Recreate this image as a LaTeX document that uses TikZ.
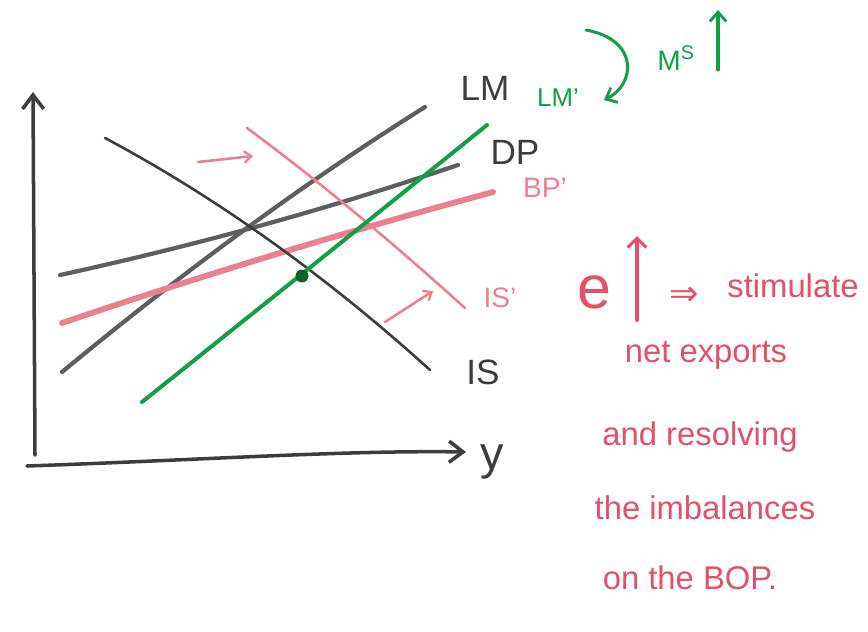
\documentclass[tikz,border=0pt]{standalone}
\usepackage{fontspec}
\setmainfont{Liberation Sans}
\newfontfamily\symfnt{DejaVu Sans}
\usetikzlibrary{arrows.meta}
\definecolor{ink}{HTML}{3A3C3E}
\definecolor{grayink}{HTML}{5C5E60}
\definecolor{pinkink}{HTML}{EC8090}
\definecolor{redink}{HTML}{E4506A}
\definecolor{greenink}{HTML}{12A046}
\tikzset{
  axis/.style={ink, line width=3pt, line cap=round, -{Straight Barb[length=12pt,width=18pt,line width=3pt]}},
  curvegray/.style={grayink, line width=3.6pt, line cap=round},
  curveblack/.style={ink, line width=2.2pt, line cap=round},
  curvepink/.style={pinkink, line width=5pt, line cap=round},
  curvepinkthin/.style={pinkink, line width=2.2pt, line cap=round},
  curvegreen/.style={greenink, line width=3.4pt, line cap=round},
  shiftarrow/.style={pinkink, line width=2.2pt, line cap=round, -{Straight Barb[length=6pt,width=10pt,line width=2pt]}},
  greenarrow/.style={greenink, line width=2.6pt, line cap=round, -{Straight Barb[length=8pt,width=14pt,line width=2.4pt]}},
  lbl/.style={inner sep=1pt, font=\fontsize{30}{32}\selectfont},
  note/.style={redink, inner sep=1pt, font=\fontsize{28}{30}\selectfont},
}
\begin{document}
\begin{tikzpicture}[x=0.03cm, y=-0.03cm]
\useasboundingbox (0,0) rectangle (868,631);
% axes
\coordinate (o) at (35,455);
\coordinate (ytop) at (33,92);
\coordinate (xl) at (27,466);
\coordinate (xr) at (466,452);
\draw[axis] (o) -- (ytop);
\draw[axis] (xl) .. controls (200,460) and (350,450) .. (xr);
\node[lbl, ink, font=\fontsize{40}{42}\selectfont] (ylab) at (492,462) {y};
% curves
\coordinate (lm1) at (62,372); \coordinate (lm2) at (425,107);
\draw[curvegray] (lm1) .. controls (183,272) and (304,183) .. (lm2);
\coordinate (dp1) at (60,275); \coordinate (dp2) at (458,165);
\draw[curvegray] (dp1) .. controls (193,246) and (325,210) .. (dp2);
\coordinate (bp1) at (62,323); \coordinate (bp2) at (493,192);
\draw[curvepink] (bp1) .. controls (206,274) and (349,231) .. (bp2);
\coordinate (is1) at (105,138); \coordinate (is2) at (430,370);
\draw[curveblack] (is1) .. controls (214,196) and (324,274) .. (is2);
\coordinate (isp1) at (247,128); \coordinate (isp2) at (465,308);
\draw[curvepinkthin] (isp1) .. controls (320,182) and (392,242) .. (isp2);
\coordinate (lmp1) at (142,402); \coordinate (lmp2) at (487,125);
\draw[curvegreen] (lmp1) .. controls (257,310) and (372,218) .. (lmp2);
\node[circle, fill=greenink!60!black, inner sep=0pt, minimum size=11pt] (eq) at (302,276) {};
% shift arrows
\coordinate (sa1) at (198,162); \coordinate (sa2) at (253,156);
\draw[shiftarrow] (sa1) -- (sa2);
\coordinate (sb1) at (385,322); \coordinate (sb2) at (433,291);
\draw[shiftarrow] (sb1) -- (sb2);
% labels
\node[lbl, ink] (lmlab) at (485,88) {LM};
\node[lbl, ink] (dplab) at (515,152) {DP};
\node[lbl, pinkink, font=\fontsize{24}{26}\selectfont] (bplab) at (545,188) {BP'};
\node[lbl, pinkink, font=\fontsize{24}{26}\selectfont] (isplab) at (500,298) {IS'};
\node[lbl, ink] (islab) at (483,372) {IS};
\node[lbl, greenink, font=\fontsize{22}{24}\selectfont] (lmplab) at (558,98) {LM'};
% money supply
\coordinate (ca1) at (586,30); \coordinate (ca2) at (604,100);
\draw[greenarrow] (ca1) .. controls (640,40) and (635,85) .. (ca2);
\node[lbl, greenink, font=\fontsize{24}{26}\selectfont] (mslab) at (676,58) {M\textsuperscript{S}};
\coordinate (ms1) at (718,70); \coordinate (ms2) at (718,10);
\draw[greenarrow] (ms1) -- (ms2);
% notes
\node[note, font=\fontsize{52}{54}\selectfont] (e) at (594,292) {e};
\coordinate (ea1) at (637,320); \coordinate (ea2) at (637,236);
\draw[redink, line width=3.4pt, line cap=round, -{Straight Barb[length=8pt,width=16pt,line width=2.6pt]}] (ea1) -- (ea2);
\node[note, font=\fontsize{30}{32}\symfnt] (impl) at (684,296) {⇒};
\node[note] (n1) at (793,286) {stimulate};
\node[note] (n2) at (706,355) {net exports};
\node[note] (n3) at (700,437) {and resolving};
\node[note] (n4) at (705,508) {the imbalances};
\node[note] (n5) at (690,578) {on the BOP.};
\end{tikzpicture}
\end{document}
